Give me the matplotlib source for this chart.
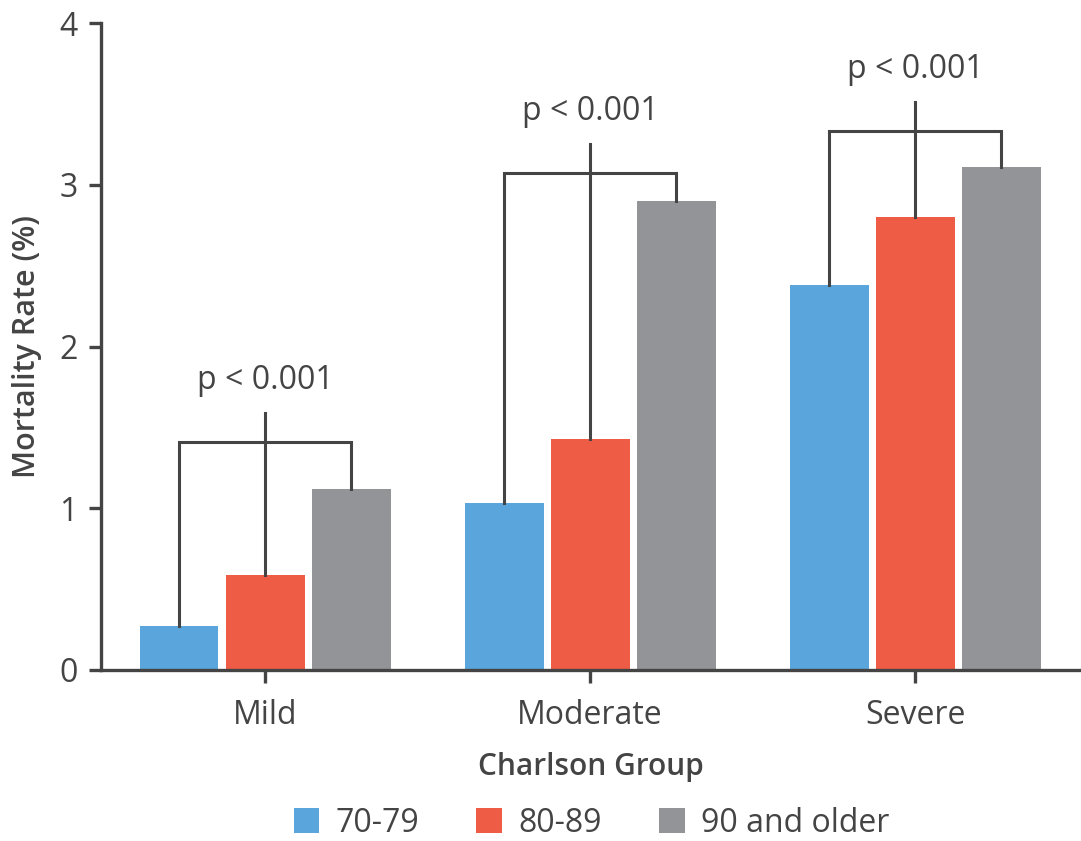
import matplotlib.pyplot as plt
from matplotlib.patches import Patch
import numpy as np

plt.rcParams['font.family'] = ['Open Sans', 'DejaVu Sans']

groups = ['Mild', 'Moderate', 'Severe']
age_bands = ['70-79', '80-89', '90 and older']
rate_70_79 = [0.27, 1.03, 2.38]
rate_80_89 = [0.59, 1.43, 2.80]
rate_90_up = [1.12, 2.90, 3.11]
bracket_level = [1.41, 3.07, 3.33]
p_labels = ['p < 0.001', 'p < 0.001', 'p < 0.001']

colors = ['#5AA5DC', '#EE5C45', '#929497']
ink = '#444444'

fig = plt.figure(figsize=(10.81, 8.41), dpi=100)
ax = fig.add_axes([101 / 1081, 171 / 841, 979 / 1081, 647 / 841])

x = np.arange(len(groups))
width = 0.243
step = 0.265
series = [rate_70_79, rate_80_89, rate_90_up]
for i, (vals, col) in enumerate(zip(series, colors)):
    ax.bar(x + (i - 1) * step, vals, width, color=col, zorder=2)

# significance brackets: legs from the outer bars, centre stem from the middle bar
for xi, lvl, lab, a, b, c in zip(x, bracket_level, p_labels,
                                  rate_70_79, rate_80_89, rate_90_up):
    xl, xm, xr = xi - step, xi, xi + step
    ax.plot([xl, xl, xr, xr], [a, lvl, lvl, c], color=ink, lw=2.2,
            solid_joinstyle='miter', zorder=3)
    ax.plot([xm, xm], [b, lvl + 0.18], color=ink, lw=2.2, zorder=3)
    ax.text(xm, lvl + 0.38, lab, ha='center', va='center',
            fontsize=23, color=ink)

ax.set_xlim(-0.505, 2.507)
ax.set_ylim(0, 4)
ax.set_yticks([0, 1, 2, 3, 4])
ax.set_xticks(x)
ax.set_xticklabels(groups)

for side in ['top', 'right']:
    ax.spines[side].set_visible(False)
for side in ['left', 'bottom']:
    ax.spines[side].set_color(ink)
    ax.spines[side].set_linewidth(2.4)

ax.tick_params(axis='both', colors=ink, labelcolor=ink, labelsize=23,
               width=2.4, length=9)
ax.tick_params(axis='y', pad=8)
ax.tick_params(axis='x', pad=12)

ax.set_ylabel('Mortality Rate (%)', fontsize=22, fontweight='semibold',
              color=ink, labelpad=12)
ax.set_xlabel('Charlson Group', fontsize=21.5, fontweight='semibold',
              color=ink, labelpad=14)

handles = [Patch(facecolor=c, label=l) for c, l in zip(colors, age_bands)]
fig.legend(handles=handles, loc='center', bbox_to_anchor=(0.547, 18 / 841),
           ncol=3, frameon=False, fontsize=23, handlelength=0.8,
           handleheight=0.8, handletextpad=0.5, columnspacing=1.8,
           labelcolor=ink, borderpad=0)

fig.savefig('out.png', dpi=100)
